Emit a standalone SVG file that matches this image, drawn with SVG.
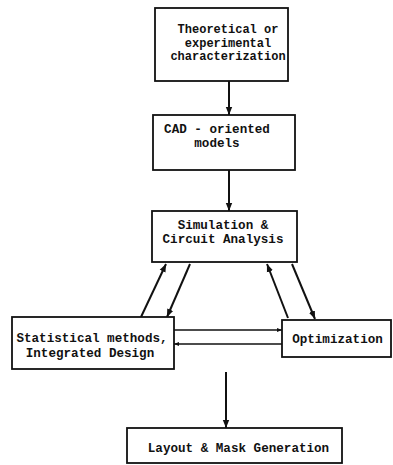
<svg xmlns="http://www.w3.org/2000/svg" width="393" height="465" viewBox="0 0 393 465">
<style>
.box{fill:#fff;stroke:#111;stroke-width:1.8}
.t{font-family:"Liberation Mono","DejaVu Sans Mono",monospace;font-size:12.6px;font-weight:bold;fill:#111;text-anchor:middle}
.s{font-size:12px}
.c{stroke:#111;stroke-width:2;fill:none;marker-end:url(#ah)}
.h{stroke:#111;stroke-width:1.3;fill:none;marker-end:url(#ah)}
</style>
<defs>
<marker id="ah" viewBox="0 0 10 10" refX="10" refY="5" markerWidth="4" markerHeight="4" markerUnits="strokeWidth" orient="auto">
<path d="M0,1 L10,5 L0,9 Z" fill="#111"/>
</marker>
</defs>
<rect width="393" height="465" fill="#fff"/>
<g id="connectors">
<line class="c" x1="229" y1="81" x2="229" y2="115"/>
<line class="c" x1="229" y1="170" x2="229" y2="211"/>
<line class="c" x1="141" y1="317" x2="166" y2="264"/>
<line class="c" x1="190" y1="264" x2="167" y2="317"/>
<line class="c" x1="288" y1="318" x2="267" y2="264"/>
<line class="c" x1="292" y1="264" x2="315" y2="319"/>
<line class="h" x1="174" y1="330" x2="282" y2="330"/>
<line class="h" x1="282" y1="344" x2="174" y2="344"/>
<line class="c" x1="226" y1="372" x2="226" y2="428"/>
</g>
<g id="n1">
<rect class="box" x="155" y="8" width="133" height="73"/>
<text class="t s" x="228" y="33">Theoretical or</text>
<text class="t s" x="228" y="46.5">experimental</text>
<text class="t s" x="228" y="60">characterization</text>
</g>
<g id="n2">
<rect class="box" x="153" y="115" width="142" height="55"/>
<text class="t" x="217" y="133">CAD - oriented</text>
<text class="t" x="217" y="147">models</text>
</g>
<g id="n3">
<rect class="box" x="152" y="211" width="145" height="51"/>
<text class="t" x="223" y="229">Simulation &amp;</text>
<text class="t" x="223" y="243">Circuit Analysis</text>
</g>
<g id="n4">
<rect class="box" x="12" y="317" width="162" height="52"/>
<text class="t" x="92" y="342">Statistical methods,</text>
<text class="t" x="90" y="357">Integrated Design</text>
</g>
<g id="n5">
<rect class="box" x="282" y="320" width="109" height="37"/>
<text class="t" x="337.5" y="343">Optimization</text>
</g>
<g id="n6">
<rect class="box" x="127" y="428" width="215" height="35"/>
<text class="t" x="238.5" y="452">Layout &amp; Mask Generation</text>
</g>
</svg>
